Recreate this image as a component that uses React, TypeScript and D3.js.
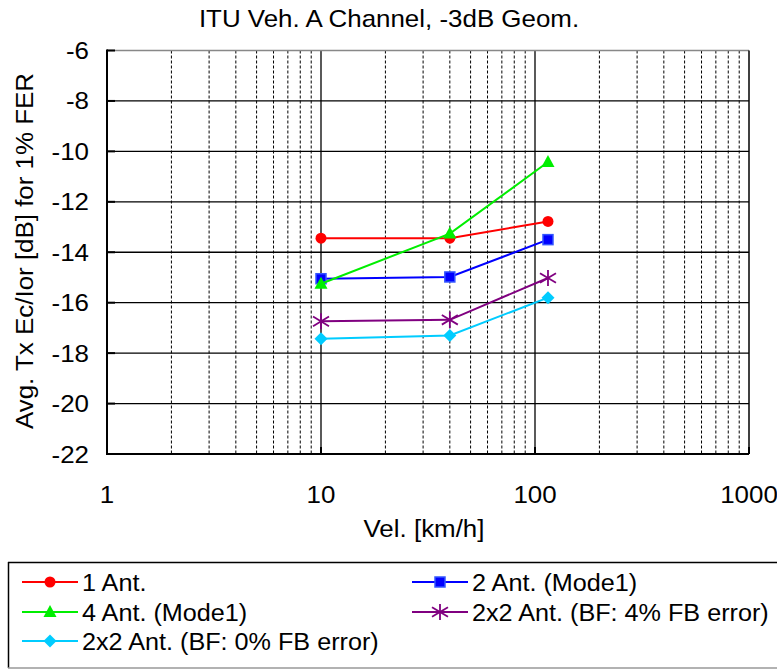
import React from "react";
import * as d3 from "d3";

const title = "ITU Veh. A Channel, -3dB Geom.";
const xLabel = "Vel. [km/h]";
const yLabel = "Avg. Tx Ec/Ior [dB] for 1% FER";
const velocities = [10, 40, 115];
const xTicks = [1, 10, 100, 1000];
const yTicks = [-6, -8, -10, -12, -14, -16, -18, -20, -22];

const oneAnt = [-13.44, -13.44, -12.78];
const twoAnt = [-15.05, -14.98, -13.5];
const fourAnt = [-15.25, -13.26, -10.42];
const bf4 = [-16.74, -16.68, -15.02];
const bf0 = [-17.43, -17.3, -15.8];

const series = [
  { name: "1 Ant.", values: oneAnt, color: "#ff0000", marker: "circle" },
  { name: "2 Ant. (Mode1)", values: twoAnt, color: "#0000ff", marker: "square" },
  { name: "4 Ant. (Mode1)", values: fourAnt, color: "#00ee00", marker: "triangle" },
  { name: "2x2 Ant. (BF: 4% FB error)", values: bf4, color: "#800080", marker: "star" },
  { name: "2x2 Ant. (BF: 0% FB error)", values: bf0, color: "#00ccff", marker: "diamond" },
];

const W = 777;
const H = 670;
const left = 107;
const right = 749;
const top = 50.5;
const bottom = 454;
const font = "'Liberation Sans', Arial, sans-serif";
const fs = 24;

function T({ x, y, anchor = "start", rotate = 0, sx = 1.08, children }: any) {
  return (
    <text
      transform={`translate(${x},${y}) rotate(${rotate}) scale(${sx},1)`}
      textAnchor={anchor}
      fontSize={fs}
      fill="#000"
    >
      {children}
    </text>
  );
}

function Marker({ type, x, y, color }: { type: string; x: number; y: number; color: string }) {
  if (type === "circle") return <circle cx={x} cy={y} r={5.5} fill={color} />;
  if (type === "square")
    return <rect x={x - 5} y={y - 5} width={10} height={10} fill={color} stroke="#3355ff" strokeWidth={1.5} />;
  if (type === "triangle")
    return <path d={`M${x},${y - 7}L${x + 6.5},${y + 5}L${x - 6.5},${y + 5}Z`} fill={color} />;
  if (type === "diamond")
    return <path d={`M${x},${y - 6.5}L${x + 6.5},${y}L${x},${y + 6.5}L${x - 6.5},${y}Z`} fill={color} />;
  const r = 8;
  return (
    <g stroke={color} strokeWidth={1.8}>
      <line x1={x} y1={y - r} x2={x} y2={y + r} />
      <line x1={x - r} y1={y - r * 0.6} x2={x + r} y2={y + r * 0.6} />
      <line x1={x - r} y1={y + r * 0.6} x2={x + r} y2={y - r * 0.6} />
    </g>
  );
}

export default function App() {
  const x = d3.scaleLog().domain([1, 1000]).range([left, right]);
  const y = d3.scaleLinear().domain([-22, -6]).range([bottom, top]);
  const minor: number[] = [];
  [1, 10, 100].forEach((d) => {
    for (let k = 2; k <= 9; k++) minor.push(d * k);
  });
  const line = d3
    .line<[number, number]>()
    .x((d) => x(d[0]))
    .y((d) => y(d[1]));

  const legendRows = [
    [series[0], series[1]],
    [series[2], series[3]],
    [series[4]],
  ];
  const rowY = [582, 612, 641];

  return (
    <svg width={W} height={H} style={{ position: "absolute", left: 0, top: 0 }} fontFamily={font}>
      <rect width={W} height={H} fill="#fff" />
      <T x={389} y={27} anchor="middle">
        {title}
      </T>
      {minor.map((d) => (
        <line key={d} x1={x(d)} x2={x(d)} y1={top} y2={bottom} stroke="#000" strokeWidth={1} strokeDasharray="3,2" />
      ))}
      {[10, 100].map((d) => (
        <line key={d} x1={x(d)} x2={x(d)} y1={top} y2={bottom} stroke="#000" strokeWidth={1.3} />
      ))}
      {yTicks.slice(1, -1).map((d) => (
        <line key={d} x1={left} x2={right} y1={y(d)} y2={y(d)} stroke="#000" strokeWidth={1.3} />
      ))}
      <line x1={left} x2={right} y1={top} y2={top} stroke="#888" strokeWidth={1.5} />
      <line x1={right} x2={right} y1={top} y2={bottom} stroke="#000" strokeWidth={1.5} />
      <line x1={left} x2={left} y1={top - 1} y2={bottom + 1} stroke="#000" strokeWidth={2} />
      <line x1={left} x2={right} y1={bottom} y2={bottom} stroke="#000" strokeWidth={2} />
      {yTicks.map((d) => (
        <g key={d}>
          <line x1={left} x2={left + 8} y1={y(d)} y2={y(d)} stroke="#000" strokeWidth={2} />
          <T x={89} y={y(d) + 8.5} anchor="end">
            {d}
          </T>
        </g>
      ))}
      {xTicks.map((d) => (
        <g key={d}>
          <line x1={x(d)} x2={x(d)} y1={bottom} y2={bottom - 7} stroke="#000" strokeWidth={2} />
          <T x={x(d)} y={503} anchor="middle">
            {d}
          </T>
        </g>
      ))}
      <T x={424} y={537} anchor="middle">
        {xLabel}
      </T>
      <T x={33} y={251} anchor="middle" rotate={-90}>
        {yLabel}
      </T>
      {series.map((s) => (
        <g key={s.name}>
          <path
            d={line(velocities.map((v, i) => [v, s.values[i]] as [number, number])) || ""}
            fill="none"
            stroke={s.color}
            strokeWidth={2}
          />
          {velocities.map((v, i) => (
            <Marker key={v} type={s.marker} x={x(v)} y={y(s.values[i])} color={s.color} />
          ))}
        </g>
      ))}
      <line x1={8} x2={777} y1={562.5} y2={562.5} stroke="#000" strokeWidth={1.5} />
      <line x1={8.5} x2={8.5} y1={562} y2={668} stroke="#000" strokeWidth={1.5} />
      <line x1={8} x2={777} y1={668} y2={668} stroke="#999" strokeWidth={1.5} />
      {legendRows.map((row, ri) =>
        row.map((s, ci) => {
          const lx = ci === 0 ? 22 : 412;
          const ly = rowY[ri];
          return (
            <g key={s.name}>
              <line x1={lx} x2={lx + 56} y1={ly} y2={ly} stroke={s.color} strokeWidth={2} />
              <Marker type={s.marker} x={lx + 28} y={ly} color={s.color} />
              <T x={lx + 60} y={ly + 8.5} sx={1.05}>
                {s.name}
              </T>
            </g>
          );
        })
      )}
    </svg>
  );
}
